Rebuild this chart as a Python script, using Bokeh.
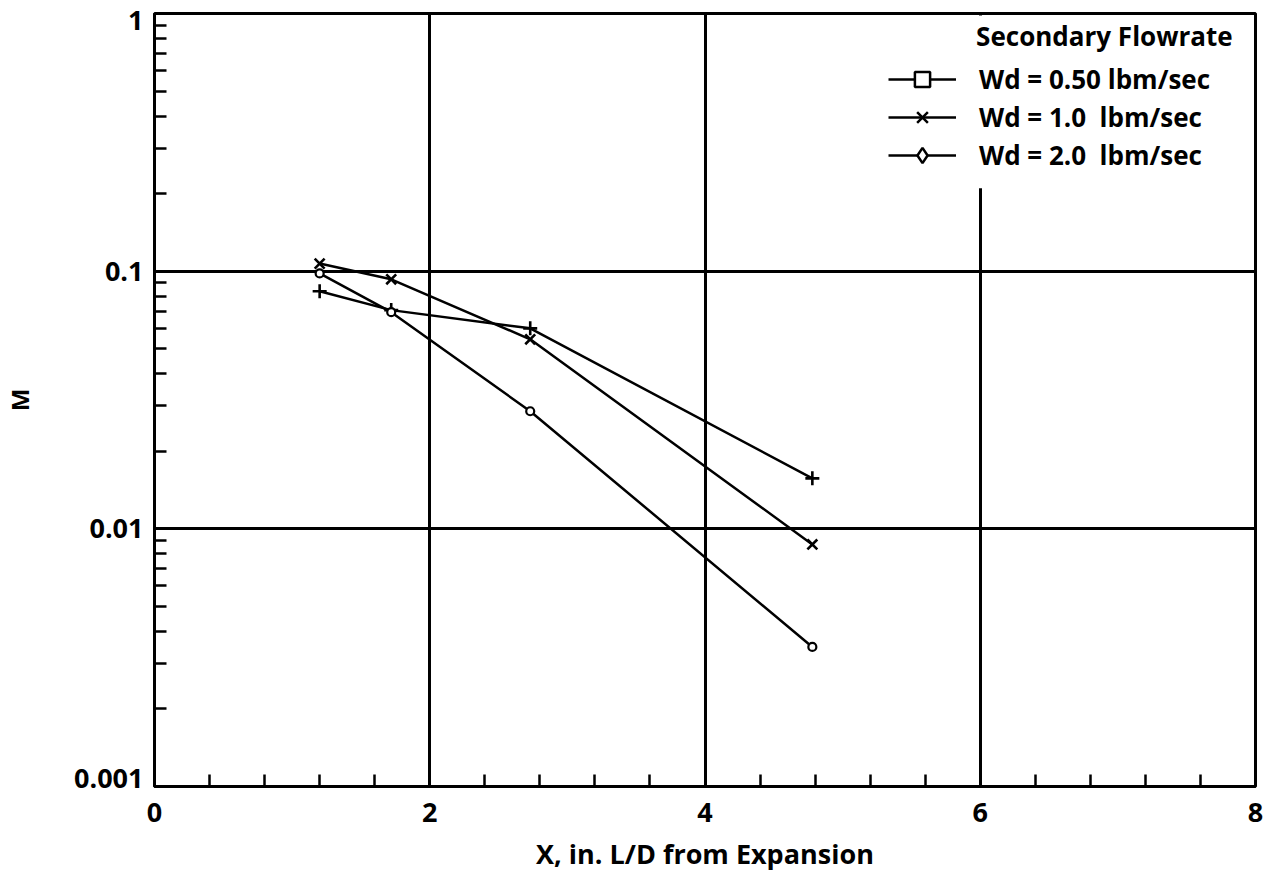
from bokeh.plotting import figure
from bokeh.models import FixedTicker, Legend, LegendItem, Label, BoxAnnotation
from bokeh.embed import file_html
from bokeh.resources import INLINE

# ---- data ----
x_pos = [1.2, 1.72, 2.73, 4.78]
m_050 = [0.0836, 0.0706, 0.060, 0.0157]
m_100 = [0.107, 0.093, 0.0544, 0.0087]
m_200 = [0.098, 0.0693, 0.0286, 0.00348]
series_values = [m_050, m_100, m_200]
series_labels = ["Wd = 0.50 lbm/sec", "Wd = 1.0  lbm/sec", "Wd = 2.0  lbm/sec"]
plot_markers = ["cross", "x", "circle"]
legend_markers = ["square", "x", "diamond"]
legend_title = "Secondary Flowrate"
x_title = "X, in. L/D from Expansion"
y_title = "M"

x_major = [0, 2, 4, 6, 8]
x_minor = [0.4, 0.8, 1.2, 1.6, 2.4, 2.8, 3.2, 3.6, 4.4, 4.8, 5.2, 5.6, 6.4, 6.8, 7.2, 7.6]
y_major = [0.001, 0.01, 0.1, 1]
y_major_labels = ["0.001", "0.01", "0.1", "1"]
# the end labels sit slightly inside the frame, as in the original print
y_label_pos = [0.001074, 0.01, 0.1, 0.9395]
y_minor = [k * 10.0 ** e for e in (-3, -2, -1) for k in range(2, 10)]

FONT = "Open Sans"
NAN = float("nan")

p = figure(width=1263, height=874, x_range=(0, 8), y_range=(0.001, 1),
           y_axis_type="log", output_backend="svg", toolbar_location=None,
           min_border_left=153, min_border_top=13, min_border_right=8, min_border_bottom=87)

p.background_fill_color = "white"
p.border_fill_color = "white"
p.outline_line_color = "black"
p.outline_line_width = 3

# axes
p.xaxis.ticker = FixedTicker(ticks=x_major, minor_ticks=x_minor)
p.yaxis.ticker = FixedTicker(ticks=y_label_pos, minor_ticks=y_minor)
p.yaxis.major_label_overrides = {v: s for v, s in zip(y_label_pos, y_major_labels)}
for ax in (p.xaxis[0], p.yaxis[0]):
    ax.axis_line_width = 3
    ax.axis_line_color = "black"
    ax.major_tick_in = 0
    ax.major_tick_out = 0
    ax.minor_tick_in = 12
    ax.minor_tick_out = 0
    ax.minor_tick_line_width = 2.5
    ax.minor_tick_line_color = "black"
    ax.major_label_text_font = FONT
    ax.major_label_text_font_style = "bold"
    ax.major_label_text_font_size = "27px"
    ax.major_label_text_color = "black"
    ax.axis_label_text_font = FONT
    ax.axis_label_text_font_style = "bold"
    ax.axis_label_text_color = "black"
p.xaxis.axis_label = x_title
p.yaxis.axis_label = y_title
p.xaxis.axis_label_text_font_size = "27px"
p.yaxis.axis_label_text_font_size = "24px"
p.xaxis.major_label_standoff = 16
p.xaxis.axis_label_standoff = 10
p.yaxis.major_label_standoff = 11
p.yaxis.axis_label_standoff = 35

# grid
p.xgrid.ticker = FixedTicker(ticks=[2, 4, 6])
p.ygrid.ticker = FixedTicker(ticks=[0.01, 0.1])
for g in (p.xgrid[0], p.ygrid[0]):
    g.grid_line_color = "black"
    g.grid_line_width = 3
    g.grid_line_alpha = 1.0

# legend background (hides the x=6 grid line behind the legend)
p.add_layout(BoxAnnotation(left=5.3, right=7.985, bottom=0.21, top=0.982, level="underlay",
                           fill_color="white", fill_alpha=1.0, line_alpha=0))

# data
for vals, mk in zip(series_values, plot_markers):
    p.line(x_pos, vals, line_color="black", line_width=2.5)
    if mk == "circle":
        p.scatter(x_pos, vals, marker=mk, size=8, line_color="black",
                  line_width=2.2, fill_color="white")
    else:
        p.scatter(x_pos, vals, marker=mk, size=14, line_color="black",
                  line_width=2.6, fill_color="white")

p.add_layout(Label(x=5.97, y=0.82, text=legend_title, text_align="left",
                   text_baseline="middle", text_font=FONT, text_font_style="bold",
                   text_font_size="26px", text_color="black"))

items = []
for lab, mk in zip(series_labels, legend_markers):
    lr = p.line([NAN, NAN], [NAN, NAN], line_color="black", line_width=2.5)
    sr = p.scatter([NAN], [NAN], marker=mk, line_color="black", line_width=2.5,
                   fill_color="white", size=18)
    items.append(LegendItem(label=lab, renderers=[lr, sr]))

leg = Legend(items=items, location=(734, 612), orientation="vertical",
             glyph_width=68, glyph_height=38, spacing=0, label_standoff=23,
             padding=0, margin=0, border_line_alpha=0, background_fill_alpha=0,
             label_text_font=FONT, label_text_font_style="bold",
             label_text_font_size="26px", label_text_color="black")
p.add_layout(leg)

open("out.html", "w").write(file_html(p, INLINE))
